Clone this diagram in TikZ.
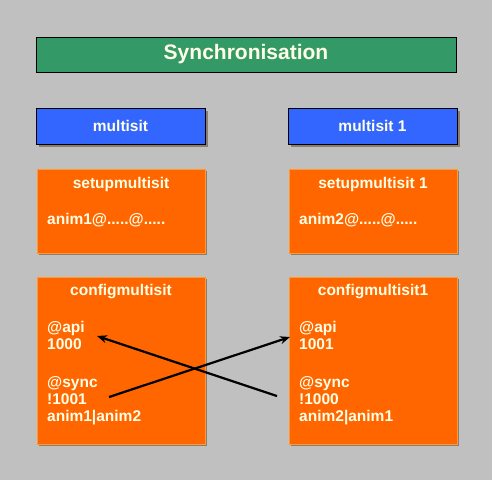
\documentclass[tikz,border=0pt]{standalone}
\usepackage{fontspec}
\setmainfont{Liberation Sans}
\usetikzlibrary{arrows.meta}
\definecolor{bggray}{HTML}{C0C0C0}
\definecolor{syncgreen}{HTML}{339966}
\definecolor{sitblue}{HTML}{3366FF}
\definecolor{boxorange}{HTML}{FF6600}
\definecolor{boxedge}{HTML}{FF9933}
\definecolor{txtcream}{HTML}{FFFFE6}
\definecolor{shadowgray}{HTML}{8A7F6E}
\tikzset{
  titlebox/.style={draw=black,fill=syncgreen,line width=0.8pt,minimum width=420pt,minimum height=35pt,inner sep=0pt,
    text=txtcream,font=\fontsize{21}{25}\selectfont\bfseries},
  sitbox/.style={draw=black,fill=sitblue,line width=0.8pt,minimum width=169pt,minimum height=36pt,inner sep=0pt,
    text=txtcream,font=\fontsize{15.5}{17}\selectfont\bfseries},
  orbox/.style={draw=boxedge,fill=boxorange,line width=0.8pt,minimum width=168pt,inner sep=0pt},
  boxtext/.style={text=txtcream,font=\fontsize{15.5}{17}\selectfont\bfseries,inner sep=0pt,align=left},
  shade3/.style={fill=shadowgray},
  syncarrow/.style={-{Stealth[length=10pt,width=8pt]},line width=2.2pt,black}
}
\begin{document}
\begin{tikzpicture}[x=1pt,y=-1pt]
	\useasboundingbox[fill=bggray] (0,0) rectangle (492,480);

	% shadows
	\fill[shade3] (39,111) rectangle (208,147);
	\fill[shade3] (291,111) rectangle (460,147);
	\fill[shade3] (39,171) rectangle (207,255);
	\fill[shade3] (291,171) rectangle (459,255);
	\fill[shade3] (39,279) rectangle (207,446);
	\fill[shade3] (291,279) rectangle (459,446);

	\node[titlebox] (sync) at (246,54.5) {Synchronisation};

	\node[sitbox] (sit1) at (120.5,126) {multisit};
	\node[sitbox] (sit2) at (372.5,126) {multisit 1};

	\node[orbox,minimum height=84pt] (setup1) at (121,211) {};
	\node[orbox,minimum height=84pt] (setup2) at (373,211) {};
	\node[boxtext] (setuptitle1) at (121,184) {setupmultisit};
	\node[boxtext] (setuptitle2) at (373,184) {setupmultisit 1};
	\node[boxtext,anchor=west] (anim1) at (47,220) {anim1@.....@.....};
	\node[boxtext,anchor=west] (anim2) at (299,220) {anim2@.....@.....};

	\node[orbox,minimum height=167pt] (config1) at (121,360.5) {};
	\node[orbox,minimum height=167pt] (config2) at (373,360.5) {};
	\node[boxtext] (configtitle1) at (121,292) {configmultisit};
	\node[boxtext] (configtitle2) at (373,292) {configmultisit1};
	\node[boxtext,anchor=north west] (api1) at (47,321) {@api\\1000};
	\node[boxtext,anchor=north west] (api2) at (299,321) {@api\\1001};
	\node[boxtext,anchor=north west] (syncopt1) at (47,376) {@sync\\!1001\\anim1|anim2};
	\node[boxtext,anchor=north west] (syncopt2) at (299,376) {@sync\\!1000\\anim2|anim1};

	\coordinate (from1) at (109,397);
	\coordinate (to2) at (290,337);
	\coordinate (from2) at (277,396);
	\coordinate (to1) at (97,336);
	\draw[syncarrow] (from1) -- (to2);
	\draw[syncarrow] (from2) -- (to1);
\end{tikzpicture}
\end{document}
